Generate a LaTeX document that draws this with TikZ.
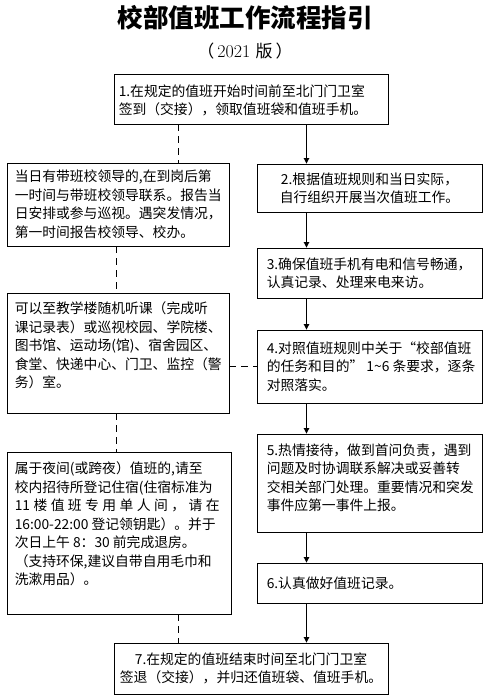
\documentclass[tikz,border=0pt]{standalone}
\usepackage{fontspec}
\newfontfamily\cjk{Noto Sans CJK SC}
\usetikzlibrary{arrows.meta,calc}
\tikzset{
  box/.style={draw, line width=0.9pt, inner sep=0pt},
  txt/.style={inner sep=0pt, align=left, font=\cjk\fontsize{13.8}{18.5}\selectfont},
  ctxt/.style={inner sep=0pt, align=center, font=\cjk\fontsize{13.8}{18.5}\selectfont},
  arr/.style={line width=0.9pt, -{Triangle[length=5.5pt,width=5.5pt]}},
  dsh/.style={line width=0.9pt, dash pattern=on 7pt off 5pt},
}
\begin{document}
\begin{tikzpicture}[x=1pt,y=-1pt]
\useasboundingbox (0,0) rectangle (490,696);
% title
\node[font=\cjk\bfseries\fontsize{25.5}{28}\selectfont, inner sep=0pt] (title) at (245,17.5) {校部值班工作流程指引};
\node[font=\fontsize{18}{20}\selectfont, inner sep=0pt] (sub) at (245,51) {{\cjk\fontsize{17}{20}\selectfont （}\hspace{3pt}2021 {\cjk\fontsize{17}{20}\selectfont 版\hspace{3pt}）}};
% boxes
\node[box, minimum width=274pt, minimum height=50pt] (b1) at (251,99) {};
\node[box, minimum width=222pt, minimum height=83pt] (bA) at (118,204.5) {};
\node[box, minimum width=225pt, minimum height=48pt] (b2) at (369.5,188) {};
\node[box, minimum width=225pt, minimum height=50pt] (b3) at (369.5,273) {};
\node[box, minimum width=222pt, minimum height=120pt] (bB) at (118,353) {};
\node[box, minimum width=225pt, minimum height=73pt] (b4) at (369.5,366.5) {};
\node[box, minimum width=224pt, minimum height=162pt] (bC) at (119,533) {};
\node[box, minimum width=225pt, minimum height=98pt] (b5) at (369.5,483) {};
\node[box, minimum width=225pt, minimum height=40pt] (b6) at (369.5,583) {};
\node[box, minimum width=274pt, minimum height=51pt] (b7) at (251,668.5) {};
% texts
\node[txt, anchor=north west] (t1) at ($(b1.north west)+(5,11)$) {1.在规定的值班开始时间前至北门门卫室\\签到（交接），领取值班袋和值班手机。};
\node[txt, anchor=west] (tA) at ($(bA.west)+(8,0)$) {当日有带班校领导的,在到岗后第\\一时间与带班校领导联系。报告当\\日安排或参与巡视。遇突发情况，\\第一时间报告校领导、校办。};
\node[ctxt] (t2) at (b2.center) {2.根据值班规则和当日实际，\\自行组织开展当次值班工作。};
\node[txt, anchor=west] (t3) at ($(b3.west)+(10,0)$) {3.确保值班手机有电和信号畅通，\\认真记录、处理来电来访。};
\node[txt, anchor=north west] (tB) at ($(bB.north west)+(8,9)$) {可以至教学楼随机听课（完成听\\课记录表）或巡视校园、学院楼、\\图书馆、运动场(馆)、宿舍园区、\\食堂、快递中心、门卫、监控（警\\务）室。};
\node[txt, anchor=west] (t4) at ($(b4.west)+(10,0)$) {4.对照值班规则中关于“校部值班\\的任务和目的” 1\textasciitilde 6 条要求，逐条\\对照落实。};
\node[txt, anchor=north west] (tC) at ($(bC.north west)+(8,10)$) {属于夜间(或跨夜）值班的,请至\\校内招待所登记住宿(住宿标准为\\\hbox to 205pt{11\hfill 楼\hfill 值\hfill 班\hfill 专\hfill 用\hfill 单\hfill 人\hfill 间\hfill ，\hfill 请\hfill 在}\\16:00-22:00 登记领钥匙）。并于\\次日上午 8：30 前完成退房。\\（支持环保,建议自带自用毛巾和\\洗漱用品）。};
\node[txt, anchor=north west] (t5) at ($(b5.north west)+(10,10)$) {5.热情接待，做到首问负责，遇到\\问题及时协调联系解决或妥善转\\交相关部门处理。重要情况和突发\\事件应第一事件上报。};
\node[txt, anchor=west] (t6) at ($(b6.west)+(10,0)$) {6.认真做好值班记录。};
\node[ctxt] (t7) at (b7.center) {7.在规定的值班结束时间至北门门卫室\\签退（交接），并归还值班袋、值班手机。};
% connectors
\coordinate (cx) at (306.5,0);
\coordinate (dx1) at (178,0);
\coordinate (dx2) at (116,0);
\draw[arr] (b1.south -| cx) -- (b2.north -| cx);
\draw[arr] (b2.south -| cx) -- (b3.north -| cx);
\draw[arr] (b3.south -| cx) -- (b4.north -| cx);
\draw[arr] (b4.south -| cx) -- (b5.north -| cx);
\draw[arr] (b5.south -| cx) -- (b6.north -| cx);
\draw[arr] (b6.south -| cx) -- (b7.north -| cx);
\draw[dsh] (b1.south -| dx1) -- (bA.north -| dx1);
\draw[dsh] (bA.south -| dx2) -- (bB.north -| dx2);
\draw[dsh] (bB.south -| dx2) -- (bC.north -| dx2);
\draw[dsh] (bC.south -| dx1) -- (b7.north -| dx1);
\draw[dsh] (bB.east |- b4.west) -- (b4.west);
\end{tikzpicture}
\end{document}
